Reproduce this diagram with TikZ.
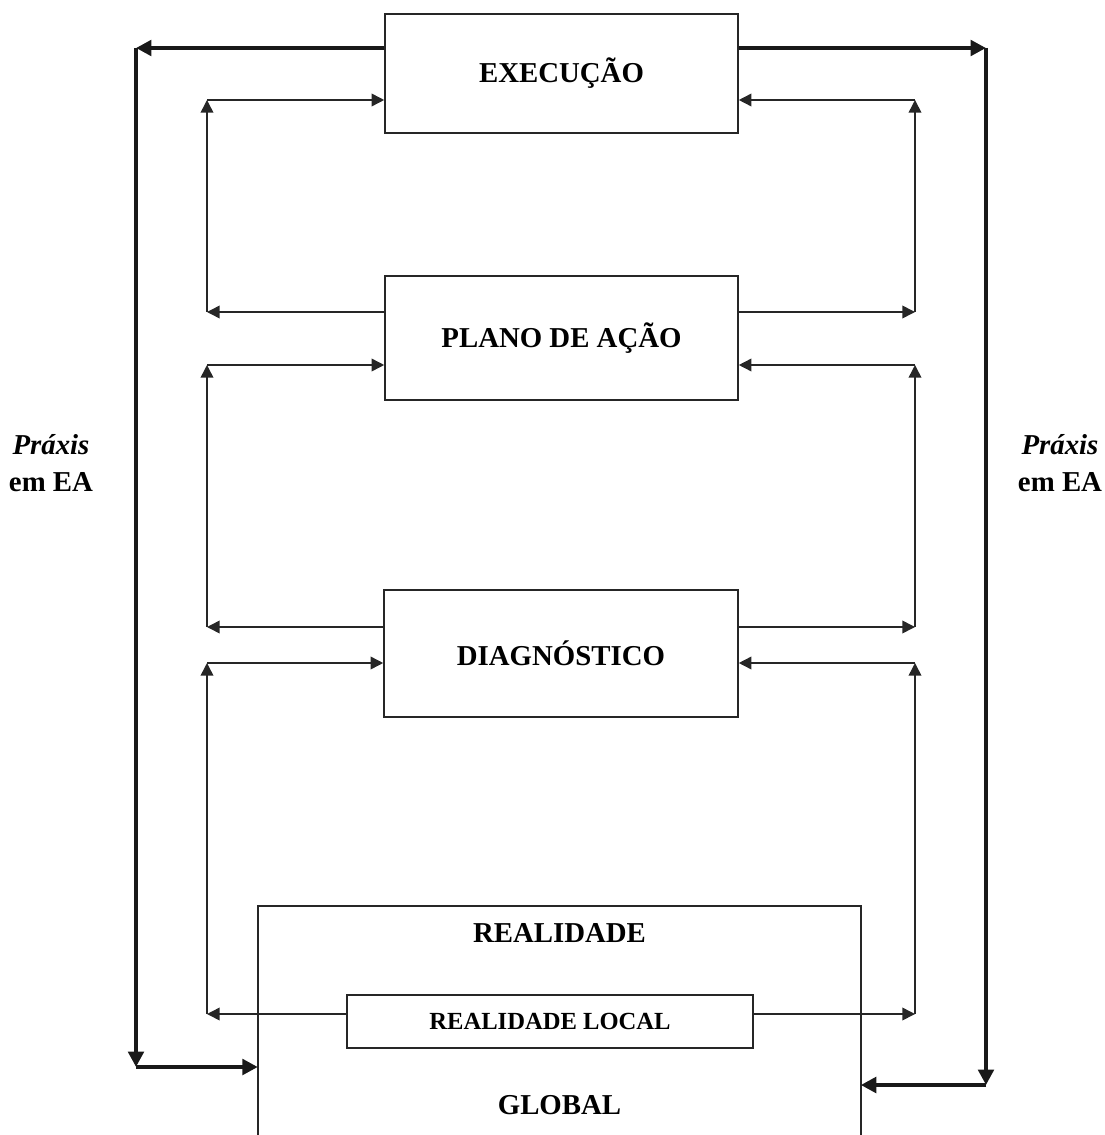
\documentclass[tikz,border=0pt]{standalone}
\usepackage{fontspec}
\setmainfont{Liberation Serif}
\usepackage{tikz}
\usetikzlibrary{arrows.meta, positioning}

\begin{document}
\begin{tikzpicture}[
    x=0.25mm, y=-0.25mm,
    box/.style={rectangle, draw=black!85, line width=1.1pt, inner sep=0pt, align=center, font=\fontsize{20.5}{25}\selectfont\bfseries},
    txt/.style={inner sep=0pt, align=center, font=\fontsize{20.5}{26}\selectfont\bfseries},
    rimline/.style={draw=black!85, line width=1.4pt, line join=miter},
    conn/.style={draw=black!85, line width=1.1pt, -{Triangle[length=9pt, width=9pt]}},
    thickconn/.style={draw=black!90, line width=2.8pt, -{Triangle[length=11pt, width=11pt]}}
]
    \useasboundingbox (0,0) rectangle (1104,1135);

    % Stages (centre column)
    \node (exe) at (561.5, 73.5) [box, minimum width=88.25mm, minimum height=29.75mm] {EXECUÇÃO};
    \node (plano) at (561.5, 338) [box, minimum width=88.25mm, minimum height=31mm] {PLANO DE AÇÃO};
    \node (diag) at (561, 653.5) [box, minimum width=88.5mm, minimum height=31.75mm] {DIAGNÓSTICO};

    % Reality block (open at the bottom edge)
    \node (real) at (559.3, 1023) [rectangle, inner sep=0pt, minimum width=150.6mm, minimum height=58.5mm] {};
    \draw [rimline] (real.south west) -- (real.north west) -- (real.north east) -- (real.south east);
    \node (realtop) at (559.5, 933) [txt] {REALIDADE};
    \node (local) at (550, 1021.5) [box, minimum width=101.5mm, minimum height=13.25mm, font=\fontsize{17.5}{21}\selectfont\bfseries] {REALIDADE LOCAL};
    \node (global) at (559.5, 1105) [txt] {GLOBAL};

    % Side labels
    \node (praxisL) at (51, 463) [txt] {\textit{Práxis}\\em EA};
    \node (praxisR) at (1060, 463) [txt] {\textit{Práxis}\\em EA};

    % Corner points
    \coordinate (tl) at (136, 48);
    \coordinate (bl) at (136, 1067);
    \coordinate (tr) at (986, 48);
    \coordinate (br) at (986, 1085);
    \coordinate (l1) at (207, 100);  \coordinate (l2) at (207, 312);
    \coordinate (l3) at (207, 365);  \coordinate (l4) at (207, 627);
    \coordinate (l5) at (207, 663);  \coordinate (l6) at (207, 1014);
    \coordinate (r1) at (915, 100);  \coordinate (r2) at (915, 312);
    \coordinate (r3) at (915, 365);  \coordinate (r4) at (915, 627);
    \coordinate (r5) at (915, 663);  \coordinate (r6) at (915, 1014);

    % Outer loop (Praxis)
    \draw [thickconn] (exe.west |- tl) -- (tl);
    \draw [thickconn] (tl) -- (bl);
    \draw [thickconn] (bl) -- (real.west |- bl);
    \draw [thickconn] (exe.east |- tr) -- (tr);
    \draw [thickconn] (tr) -- (br);
    \draw [thickconn] (br) -- (real.east |- br);

    % Left inner loops
    \draw [conn] (plano.west |- l2) -- (l2);
    \draw [conn] (l2) -- (l1);
    \draw [conn] (l1) -- (exe.west |- l1);
    \draw [conn] (diag.west |- l4) -- (l4);
    \draw [conn] (l4) -- (l3);
    \draw [conn] (l3) -- (plano.west |- l3);
    \draw [conn] (local.west |- l6) -- (l6);
    \draw [conn] (l6) -- (l5);
    \draw [conn] (l5) -- (diag.west |- l5);

    % Right inner loops
    \draw [conn] (plano.east |- r2) -- (r2);
    \draw [conn] (r2) -- (r1);
    \draw [conn] (r1) -- (exe.east |- r1);
    \draw [conn] (diag.east |- r4) -- (r4);
    \draw [conn] (r4) -- (r3);
    \draw [conn] (r3) -- (plano.east |- r3);
    \draw [conn] (local.east |- r6) -- (r6);
    \draw [conn] (r6) -- (r5);
    \draw [conn] (r5) -- (diag.east |- r5);

\end{tikzpicture}
\end{document}
